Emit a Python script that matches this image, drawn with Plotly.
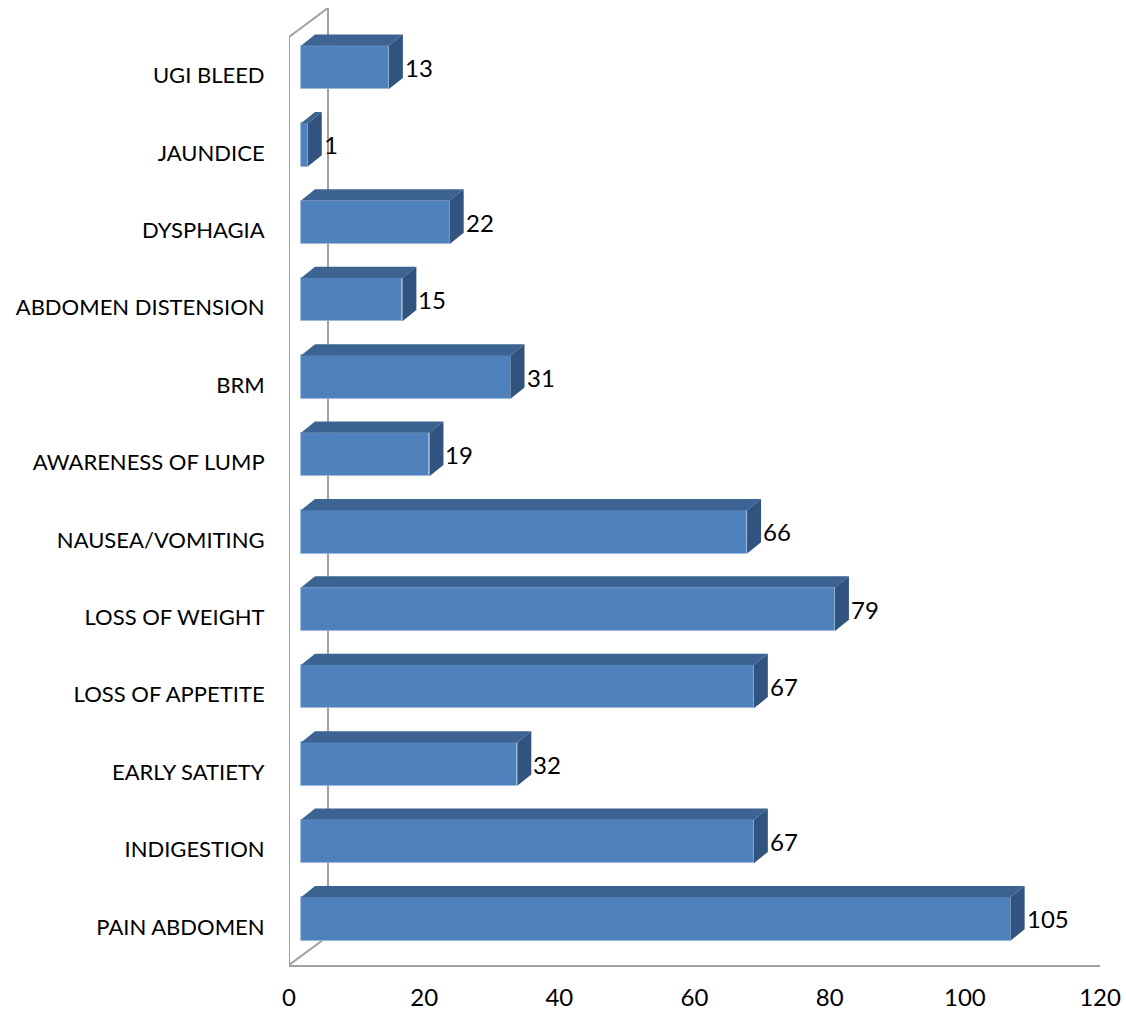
import plotly.graph_objects as go

# Presenting complaints and number of patients
categories = [
    "PAIN ABDOMEN", "INDIGESTION", "EARLY SATIETY", "LOSS OF APPETITE",
    "LOSS OF WEIGHT", "NAUSEA/VOMITING", "AWARENESS OF LUMP", "BRM",
    "ABDOMEN DISTENSION", "DYSPHAGIA", "JAUNDICE", "UGI BLEED",
]
counts = [105, 67, 32, 67, 79, 66, 19, 31, 15, 22, 1, 13]
x_ticks = [0, 20, 40, 60, 80, 100, 120]

# Pseudo-3D geometry (in axis units)
X_MAX = 120
Y_LO, Y_HI = -0.491, 11.873
FRONT_OFF = 1.78      # front face of the bars sits in front of the back wall
BAR_LIFT = 0.105      # bar centres sit slightly above the category label
BAR_H = 0.56          # thickness of the front face
DEPTH_X, DEPTH_Y = 2.07, 0.145   # bar depth projection
WALL_X, WALL_Y = 5.77, 0.37      # wall / floor depth projection
WALL_TOP_FRONT = 11.50

FRONT = "#4F81BD"
TOP = "#3C6391"
SIDE = "#30547F"
WALL = "#A0A0A0"
FONT = "Lato, 'Open Sans', sans-serif"

pos = list(range(len(categories)))
centers = [p + BAR_LIFT for p in pos]

fig = go.Figure()

fig.add_trace(go.Bar(
    orientation="h",
    y=centers,
    x=counts,
    base=FRONT_OFF,
    width=BAR_H,
    marker=dict(color=FRONT, line=dict(color="#9DB8DA", width=0.8)),
    hoverinfo="skip",
    showlegend=False,
))

shapes = []

# back wall and floor outline
shapes.append(dict(type="path", xref="x", yref="y",
                   path=f"M 0,{WALL_TOP_FRONT} L {WALL_X},{Y_HI} L {WALL_X},{Y_LO + WALL_Y} L 0,{Y_LO} Z",
                   line=dict(color=WALL, width=2), fillcolor="rgba(0,0,0,0)", layer="below"))

# top and side faces of every bar
for c, v in zip(centers, counts):
    x0 = FRONT_OFF
    x1 = FRONT_OFF + v
    yt = c + BAR_H / 2
    yb = c - BAR_H / 2
    top_path = (f"M {x0},{yt} L {x0 + DEPTH_X},{yt + DEPTH_Y} "
                f"L {x1 + DEPTH_X},{yt + DEPTH_Y} L {x1},{yt} Z")
    side_path = (f"M {x1},{yt} L {x1 + DEPTH_X},{yt + DEPTH_Y} "
                 f"L {x1 + DEPTH_X},{yb + DEPTH_Y} L {x1},{yb} Z")
    shapes.append(dict(type="path", xref="x", yref="y", path=top_path,
                       fillcolor=TOP, line=dict(width=0), layer="above"))
    shapes.append(dict(type="path", xref="x", yref="y", path=side_path,
                       fillcolor=SIDE, line=dict(width=0), layer="above"))

annotations = [
    dict(x=FRONT_OFF + v + DEPTH_X, y=c, xref="x", yref="y",
         text=str(v), showarrow=False, xanchor="left", yanchor="middle",
         xshift=0, font=dict(size=24, color="black", family=FONT))
    for c, v in zip(centers, counts)
]

fig.update_layout(
    width=1126, height=1014,
    margin=dict(l=289, r=26, t=8, b=49),
    paper_bgcolor="white", plot_bgcolor="white",
    font=dict(family=FONT, size=22, color="black"),
    shapes=shapes,
    annotations=annotations,
    bargap=0,
    showlegend=False,
    xaxis=dict(range=[0, X_MAX], tickvals=x_ticks, ticktext=[str(t) for t in x_ticks],
               showgrid=False, zeroline=False, showline=True, linecolor=WALL, linewidth=2,
               ticks="outside", ticklen=10, tickcolor="rgba(0,0,0,0)",
               tickfont=dict(size=24), fixedrange=True, automargin=False),
    yaxis=dict(range=[Y_LO, Y_HI], tickvals=pos, ticktext=categories,
               showgrid=False, zeroline=False, showline=False,
               ticks="outside", ticklen=19, tickcolor="rgba(0,0,0,0)",
               tickfont=dict(size=22), fixedrange=True, automargin=False),
)

fig.write_html("out.html")
